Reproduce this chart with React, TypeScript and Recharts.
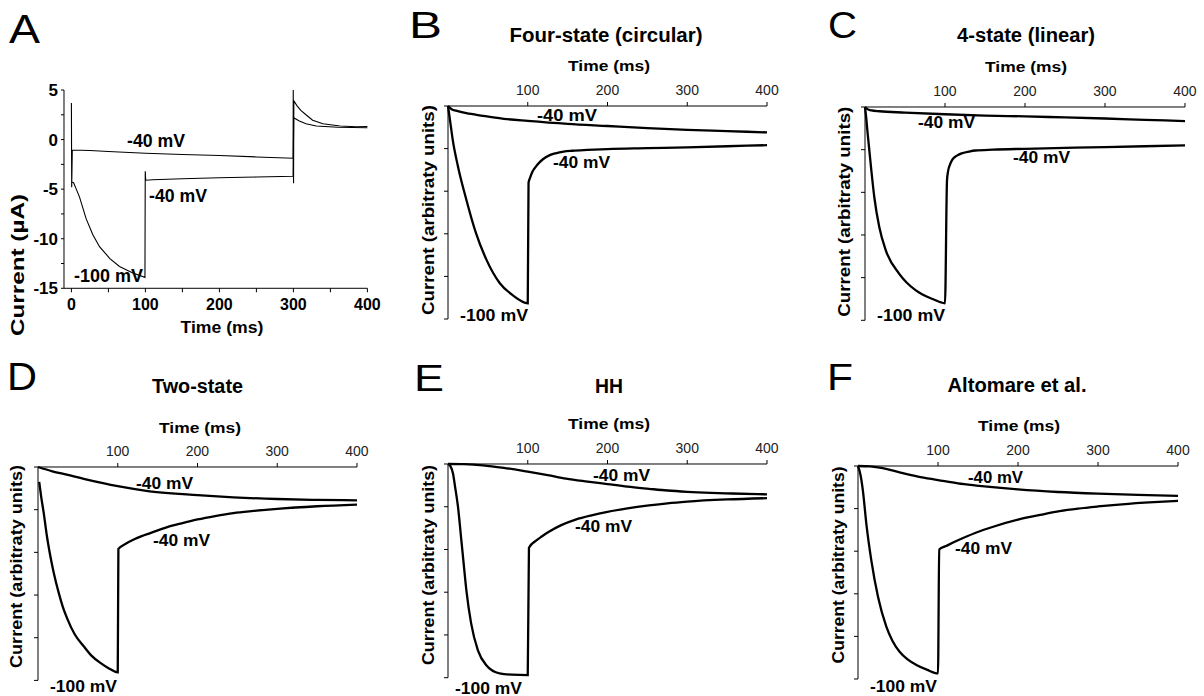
import React from 'react';
import { LineChart, Line, XAxis, YAxis } from 'recharts';

type Pt = [number, number];

const FONT = '"Liberation Sans", Arial, Helvetica, sans-serif';

// ---------- Panel A (recorded currents, µA) ----------
const aTimeTicks = [0, 50, 100, 150, 200, 250, 300, 350, 400];
const aCurrentTicks = [-15, -12.5, -10, -7.5, -5, -2.5, 0, 2.5, 5];
const aHold40: Pt[] = [
  [0, 3.7], [0.4, -4.8], [1.2, -1.05], [25, -1.1], [50, -1.2], [100, -1.38], [150, -1.5],
  [200, -1.6], [250, -1.75], [299.6, -1.88], [299.8, 5.0], [300.2, -4.4], [300.6, 3.9],
  [305, 3.4], [310, 2.95], [317, 2.5], [326, 1.95], [340, 1.6], [363, 1.37], [385, 1.3], [400, 1.32],
];
const aStep100: Pt[] = [
  [0.8, -4.3], [3, -4.35], [6, -4.9], [11, -5.8], [20, -8.0], [29, -9.6], [38, -10.8],
  [52, -12.0], [65, -12.8], [83, -13.45], [99.4, -13.9], [99.8, -3.2], [100.4, -4.1],
  [110, -4.05], [150, -3.95], [200, -3.85], [250, -3.78], [299.6, -3.7], [300.4, 2.2],
  [308, 1.88], [317, 1.6], [331, 1.37], [360, 1.25], [400, 1.2],
];

// ---------- Model panels (arbitrary units) ----------
const modelTimeTicks = [100, 200, 300, 400];
const modelCurrentTicks = [0, -1, -2, -3, -4, -5];

const bHold40: Pt[] = [
  [0, 0], [2, -0.04], [5, -0.08], [10, -0.11], [23, -0.17], [44, -0.23], [70, -0.3],
  [100, -0.35], [150, -0.42], [200, -0.47], [250, -0.52], [300, -0.56], [350, -0.59], [400, -0.62],
];
const bStep100: Pt[] = [
  [0, 0], [3, -0.4], [6, -0.8], [12.5, -1.42], [23, -2.2], [35, -2.98], [48, -3.6],
  [65, -4.16], [81, -4.44], [100, -4.63], [101, -1.8], [103, -1.68], [106, -1.54], [112, -1.38],
  [119, -1.25], [127, -1.16], [135, -1.11], [145, -1.07], [156, -1.05], [175, -1.03],
  [200, -1.01], [250, -0.99], [300, -0.97], [350, -0.945], [400, -0.92],
];

const cHold40: Pt[] = [
  [0, 0], [3, -0.05], [8, -0.08], [18, -0.1], [50, -0.13], [100, -0.17], [150, -0.2],
  [200, -0.22], [250, -0.245], [300, -0.27], [350, -0.3], [400, -0.33],
];
const cStep100: Pt[] = [
  [0, 0], [1.5, -0.25], [3.3, -0.62], [7.5, -1.41], [11.6, -2.11], [17.9, -2.82], [26, -3.36],
  [42.8, -3.91], [63.6, -4.3], [84.4, -4.5], [100, -4.6], [102.5, -1.72], [104, -1.49],
  [106, -1.36], [109, -1.24], [115, -1.14], [122, -1.08], [130, -1.045], [138, -1.02],
  [160, -1.0], [200, -0.98], [300, -0.94], [400, -0.9],
];

const dHold40: Pt[] = [
  [0, 0], [18, -0.1], [36, -0.18], [60, -0.29], [100, -0.45], [140, -0.57], [200, -0.66],
  [245, -0.71], [300, -0.75], [350, -0.77], [400, -0.78],
];
const dStep100: Pt[] = [
  [1.5, -0.35], [4, -0.7], [7.2, -1.08], [11, -1.6], [15.5, -2.09], [20, -2.5], [26, -2.95],
  [31, -3.27], [36.4, -3.54], [46, -3.92], [57.3, -4.2], [67, -4.42], [78.2, -4.59],
  [89, -4.72], [100, -4.81], [100.8, -1.92], [110, -1.8], [120, -1.7], [130, -1.62],
  [140.8, -1.55], [162, -1.41], [180, -1.32], [200, -1.23], [222, -1.15], [245, -1.08],
  [270, -1.03], [300, -0.98], [350, -0.92], [400, -0.88],
];

const eHold40: Pt[] = [
  [0, 0], [20, -0.005], [43.75, -0.03], [70, -0.09], [100, -0.18], [125, -0.26], [148, -0.34],
  [175, -0.41], [200, -0.47], [225, -0.53], [252, -0.58], [275, -0.62], [300, -0.65],
  [330, -0.675], [356, -0.69], [400, -0.71],
];
const eStep100: Pt[] = [
  [0, 0], [3, -0.05], [6.25, -0.22], [9, -0.55], [12.5, -1.0], [16.7, -1.78], [20, -2.4],
  [23, -2.95], [29, -3.73], [37.5, -4.36], [48, -4.71], [64.6, -4.9], [80, -4.93], [100, -4.94],
  [101.5, -1.96], [110, -1.8], [118, -1.69], [127, -1.58], [142, -1.43], [160, -1.3],
  [180, -1.2], [200, -1.12], [225, -1.04], [252, -0.97], [275, -0.92], [300, -0.88],
  [350, -0.83], [400, -0.8],
];

const fHold40: Pt[] = [
  [0, 0], [15, -0.01], [31, -0.05], [52, -0.15], [75, -0.25], [100, -0.33], [125, -0.41],
  [148, -0.46], [175, -0.51], [200, -0.55], [250, -0.61], [300, -0.65], [350, -0.68], [400, -0.7],
];
const fStep100: Pt[] = [
  [0, 0], [3, -0.2], [6, -0.56], [10.4, -1.35], [16.7, -2.22], [25, -3.07], [35.4, -3.77],
  [43, -4.1], [52, -4.36], [62, -4.54], [73, -4.67], [86, -4.78], [100, -4.87],
  [101.5, -1.96], [110, -1.88], [123, -1.76], [135, -1.66], [148, -1.56], [170, -1.42],
  [200, -1.26], [230, -1.14], [252, -1.06], [275, -1.0], [300, -0.95], [330, -0.9],
  [370, -0.85], [400, -0.82],
];

const toRows = (pts: Pt[]) => pts.map(([t, v]) => ({ t, v }));

// ---------- Panel components ----------
function RecordedPanel() {
  const plotLeft = 64.3, plotTop = 90, plotW = 303.4, plotH = 198.3;
  return (
    <div style={{ position: 'absolute', left: plotLeft - 60, top: plotTop - 10 }}>
      <LineChart width={plotW + 80} height={plotH + 40} margin={{ top: 10, right: 20, left: 20, bottom: 0 }}>
        <XAxis
          type="number" dataKey="t" domain={[-10, 400]} ticks={aTimeTicks} height={30}
          tickSize={4} tickMargin={6} stroke="#000"
          tickFormatter={(v: number) => (v % 100 === 0 ? String(v) : '')}
          tick={{ fontSize: 16, fontWeight: 700, fill: '#000', fontFamily: FONT }}
        />
        <YAxis
          type="number" domain={[-15, 5]} ticks={aCurrentTicks} width={40}
          tickSize={3} tickMargin={3} stroke="#000"
          tickFormatter={(v: number) => (v % 5 === 0 ? String(v) : '')}
          tick={{ fontSize: 17, fontWeight: 700, fill: '#000', fontFamily: FONT }}
        />
        <Line data={toRows(aHold40)} dataKey="v" type="linear" stroke="#000" strokeWidth={1.1}
          dot={false} activeDot={false} isAnimationActive={false} />
        <Line data={toRows(aStep100)} dataKey="v" type="linear" stroke="#000" strokeWidth={1.1}
          dot={false} activeDot={false} isAnimationActive={false} />
      </LineChart>
    </div>
  );
}

function ModelPanel(props: { left: number; top: number; w: number; h: number; hold: Pt[]; step: Pt[] }) {
  const { left, top, w, h, hold, step } = props;
  return (
    <div style={{ position: 'absolute', left: left - 20, top: top - 30 }}>
      <LineChart width={w + 40} height={h + 40} margin={{ top: 0, right: 20, left: 10, bottom: 10 }}>
        <XAxis
          type="number" dataKey="t" orientation="top" domain={[0, 400]} ticks={modelTimeTicks}
          height={30} tickSize={4} tickMargin={7} stroke="#000"
          tick={{ fontSize: 14, fill: '#222', fontFamily: FONT }}
        />
        <YAxis
          type="number" domain={[-5, 0]} ticks={modelCurrentTicks} width={10}
          tickSize={4} stroke="#000" tickFormatter={() => ''}
        />
        <Line data={toRows(hold)} dataKey="v" type="monotone" stroke="#000" strokeWidth={2.3}
          dot={false} activeDot={false} isAnimationActive={false} />
        <Line data={toRows(step)} dataKey="v" type="monotone" stroke="#000" strokeWidth={2.3}
          dot={false} activeDot={false} isAnimationActive={false} />
      </LineChart>
    </div>
  );
}

// ---------- Text overlay ----------
type TP = { x: number; y: number; s: string; size: number; len?: number; bold?: boolean; anchor?: 'start' | 'middle' | 'end'; rot?: boolean };
function T({ x, y, s, size, len, bold = true, anchor = 'middle', rot = false }: TP) {
  return (
    <text
      x={x} y={y} fontSize={size} fontWeight={bold ? 700 : 400} fontFamily={FONT}
      textAnchor={anchor} fill="#000"
      textLength={len} lengthAdjust={len ? 'spacingAndGlyphs' : undefined}
      transform={rot ? `rotate(-90 ${x} ${y})` : undefined}
    >{s}</text>
  );
}

const m40 = '-40 mV';
const m100 = '-100 mV';
const timeLabel = 'Time (ms)';
const arbLabel = 'Current (arbitraty units)';

export default function App() {
  return (
    <div style={{ position: 'absolute', left: 0, top: 0, width: 1204, height: 696, background: '#fff', overflow: 'hidden' }}>
      <RecordedPanel />
      <ModelPanel left={448} top={106} w={319} h={213} hold={bHold40} step={bStep100} />
      <ModelPanel left={865} top={106.7} w={320} h={213.3} hold={cHold40} step={cStep100} />
      <ModelPanel left={38} top={467.3} w={319} h={213.4} hold={dHold40} step={dStep100} />
      <ModelPanel left={448} top={464} w={319} h={213.7} hold={eHold40} step={eStep100} />
      <ModelPanel left={858} top={466} w={320} h={213} hold={fHold40} step={fStep100} />
      <svg width={1204} height={696} style={{ position: 'absolute', left: 0, top: 0, pointerEvents: 'none' }}>
        {/* panel letters */}
        <T x={9} y={43} s="A" size={40} bold={false} anchor="start" len={31} />
        <T x={409} y={38} s="B" size={36} bold={false} anchor="start" len={33} />
        <T x={828} y={38} s="C" size={36} bold={false} anchor="start" len={29} />
        <T x={7} y={390} s="D" size={38} bold={false} anchor="start" len={30} />
        <T x={414} y={391} s="E" size={37} bold={false} anchor="start" len={30} />
        <T x={827} y={390} s="F" size={37} bold={false} anchor="start" len={26} />
        {/* titles */}
        <T x={606} y={41.5} s="Four-state (circular)" size={20} len={193} />
        <T x={1026} y={41.5} s="4-state (linear)" size={20} len={138} />
        <T x={197.5} y={392.5} s="Two-state" size={20} len={91} />
        <T x={609} y={392.5} s="HH" size={20} len={28} />
        <T x={1017} y={392.3} s="Altomare et al." size={20} len={139} />
        {/* time axis titles */}
        <T x={222} y={333} s={timeLabel} size={17} len={83} />
        <T x={609} y={71} s={timeLabel} size={14.5} len={82} />
        <T x={1026} y={71.5} s={timeLabel} size={14.5} len={82} />
        <T x={200} y={432.5} s={timeLabel} size={14.5} len={82} />
        <T x={609} y={429.3} s={timeLabel} size={14.5} len={82} />
        <T x={1019} y={430.7} s={timeLabel} size={14.5} len={82} />
        {/* current axis titles */}
        <T x={23.5} y={265} s="Current (µA)" size={18} len={142} rot />
        <T x={433.5} y={210} s={arbLabel} size={16} len={210} rot />
        <T x={850} y={211.7} s={arbLabel} size={16} len={210} rot />
        <T x={22} y={566.5} s={arbLabel} size={16} len={203} rot />
        <T x={433.5} y={565} s={arbLabel} size={16} len={200} rot />
        <T x={843.5} y={565} s={arbLabel} size={16} len={197} rot />
        {/* annotations A */}
        <T x={156} y={147} s={m40} size={18} len={58} />
        <T x={178} y={201.7} s={m40} size={18} len={58} />
        <T x={108.5} y={281.7} s={m100} size={18} len={69} />
        {/* B */}
        <T x={567} y={120.7} s={m40} size={16} len={60} />
        <T x={581.5} y={167.7} s={m40} size={16} len={57} />
        <T x={494} y={320.7} s={m100} size={16} len={68} />
        {/* C */}
        <T x={946.5} y={127.7} s={m40} size={16} len={57} />
        <T x={1041.5} y={162.7} s={m40} size={16} len={57} />
        <T x={911} y={320.7} s={m100} size={16} len={68} />
        {/* D */}
        <T x={164.5} y={489.3} s={m40} size={16} len={57} />
        <T x={181.5} y={546} s={m40} size={16} len={57} />
        <T x={83.5} y={692.3} s={m100} size={16} len={67} />
        {/* E */}
        <T x={621.5} y={481} s={m40} size={16} len={57} />
        <T x={603.5} y={532.3} s={m40} size={16} len={57} />
        <T x={488.5} y={694} s={m100} size={16} len={67} />
        {/* F */}
        <T x={995.5} y={482.7} s={m40} size={16} len={55} />
        <T x={983.5} y={554} s={m40} size={16} len={57} />
        <T x={903.5} y={692.3} s={m100} size={16} len={67} />
      </svg>
    </div>
  );
}
